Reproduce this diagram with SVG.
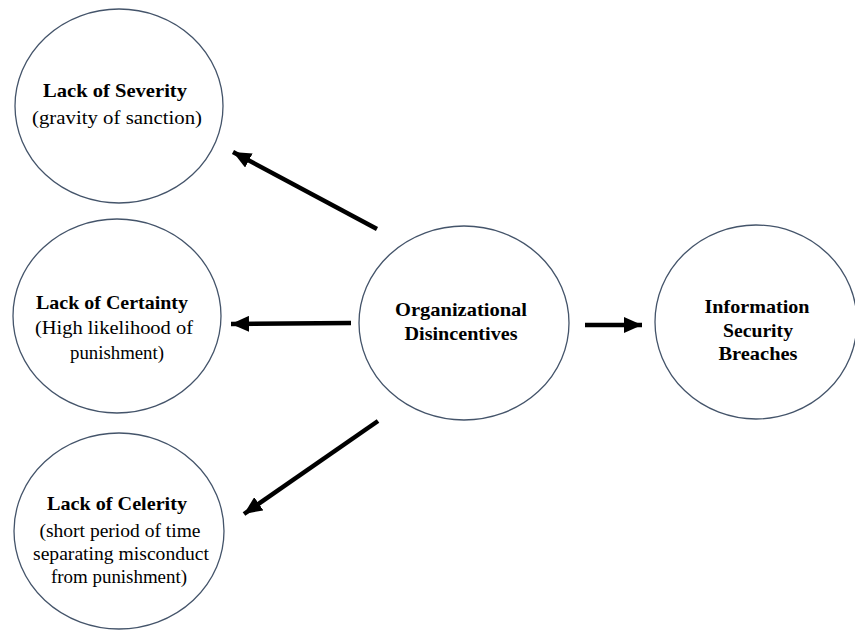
<svg xmlns="http://www.w3.org/2000/svg" width="855" height="631" viewBox="0 0 855 631">
<style>
.node ellipse{fill:#fff;stroke:#44546A;stroke-width:1.3}
text{font-family:"Liberation Serif","Times New Roman",serif;font-size:19px;fill:#000;text-anchor:middle}
.b{font-weight:bold}
.conn line{stroke:#000;stroke-width:4.5}
</style>
<defs>
<marker id="ah" markerUnits="userSpaceOnUse" markerWidth="20" markerHeight="16" refX="18" refY="8" orient="auto">
<path d="M0,0 L18,8 L0,16 Z" fill="#000"/>
</marker>
</defs>
<rect width="855" height="631" fill="#fff"/>
<g id="severity" class="node">
<ellipse cx="119" cy="106" rx="104" ry="97"/>
<text class="b" x="115" y="97" textLength="144" lengthAdjust="spacingAndGlyphs">Lack of Severity</text>
<text x="117" y="124" textLength="170" lengthAdjust="spacingAndGlyphs">(gravity  of sanction)</text>
</g>
<g id="certainty" class="node">
<ellipse cx="117" cy="316" rx="104" ry="97"/>
<text class="b" x="112" y="309" textLength="152" lengthAdjust="spacingAndGlyphs">Lack of Certainty</text>
<text x="114" y="334" textLength="158" lengthAdjust="spacingAndGlyphs">(High likelihood of</text>
<text x="117" y="359" textLength="94" lengthAdjust="spacingAndGlyphs">punishment)</text>
</g>
<g id="celerity" class="node">
<ellipse cx="119" cy="531" rx="105" ry="98"/>
<text class="b" x="117" y="510" textLength="140" lengthAdjust="spacingAndGlyphs">Lack of Celerity</text>
<text x="120" y="537" textLength="161" lengthAdjust="spacingAndGlyphs">(short period of time</text>
<text x="121" y="560" textLength="176" lengthAdjust="spacingAndGlyphs">separating misconduct</text>
<text x="119" y="583" textLength="136" lengthAdjust="spacingAndGlyphs">from punishment)</text>
</g>
<g id="org" class="node">
<ellipse cx="464" cy="323" rx="105" ry="97"/>
<text class="b" x="461" y="316" textLength="132" lengthAdjust="spacingAndGlyphs">Organizational</text>
<text class="b" x="461" y="340" textLength="113" lengthAdjust="spacingAndGlyphs">Disincentives</text>
</g>
<g id="breaches" class="node">
<ellipse cx="756" cy="322" rx="101" ry="97"/>
<text class="b" x="757" y="313" textLength="105" lengthAdjust="spacingAndGlyphs">Information</text>
<text class="b" x="758" y="337" textLength="70" lengthAdjust="spacingAndGlyphs">Security</text>
<text class="b" x="758" y="360" textLength="79" lengthAdjust="spacingAndGlyphs">Breaches</text>
</g>
<g id="connectors" class="conn">
<line x1="377" y1="229" x2="233" y2="152" marker-end="url(#ah)"/>
<line x1="351" y1="323" x2="231" y2="324" marker-end="url(#ah)"/>
<line x1="378" y1="421" x2="244" y2="514" marker-end="url(#ah)"/>
<line x1="585" y1="325" x2="642" y2="325" marker-end="url(#ah)"/>
</g>
</svg>
